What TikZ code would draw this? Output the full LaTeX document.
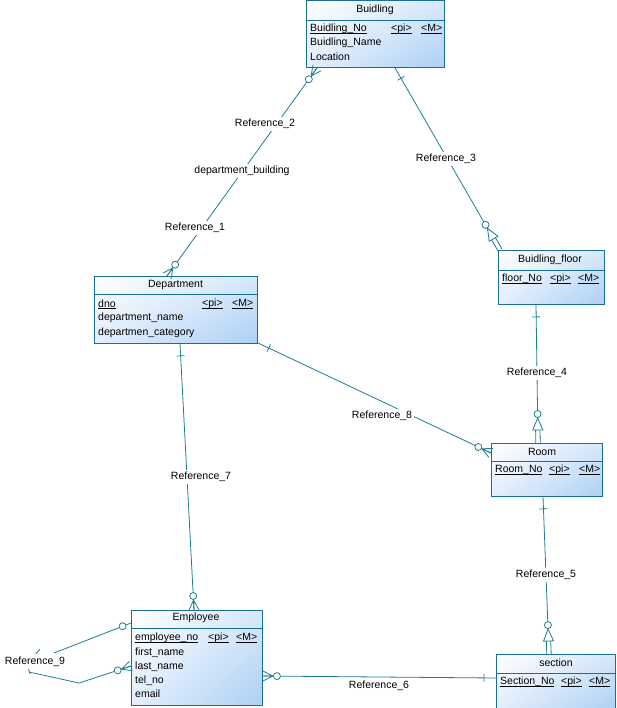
\documentclass[tikz,border=0pt]{standalone}
\usepackage{fontspec}
\setmainfont{Liberation Sans}
\usetikzlibrary{calc,shadings}
\definecolor{linkc}{RGB}{30,125,145}
\definecolor{bord}{RGB}{25,110,155}
\definecolor{shA}{RGB}{214,232,250}
\definecolor{shB}{RGB}{226,238,252}
\definecolor{shC}{RGB}{172,208,245}
\tikzset{
 ent/.style={draw=bord, line width=0.9pt, rectangle, inner sep=0pt, anchor=north west,
   upper left=white, upper right=shA, lower left=shB, lower right=shC},
 sepline/.style={draw=bord, line width=0.8pt},
 ttl/.style={font=\fontsize{10.5}{12}\selectfont, inner sep=0pt},
 att/.style={font=\fontsize{10.5}{12}\selectfont, inner sep=0pt, anchor=west},
 link/.style={draw=linkc, line width=0.8pt},
 lbl/.style={font=\fontsize{10.5}{12}\selectfont, fill=white, inner sep=2pt},
 lblnf/.style={font=\fontsize{10.5}{12}\selectfont, inner sep=1pt},
}
\newcommand\ulx[1]{\setbox0\hbox{#1}\rlap{\rule[-1.6pt]{\wd0}{0.6pt}}\box0}
\newcommand\cfMany[2]{%
 \coordinate (cfp) at ($(#1)!10pt!(#2)$);
 \draw[link] (#1) -- (cfp) ($(#1)!5pt!90:(#2)$) -- (cfp) -- ($(#1)!5pt!-90:(#2)$);
 \draw[link, fill=white] ($(#1)!14pt!(#2)$) circle[radius=3.5pt];}
\newcommand\cfOne[2]{%
 \coordinate (cfp) at ($(#1)!12pt!(#2)$);
 \draw[link] ($(cfp)!4pt!90:(#2)$) -- ($(cfp)!4pt!-90:(#2)$);}
\newcommand\cfSub[2]{%
 \coordinate (cfb) at ($(#1)!13pt!(#2)$);
 \coordinate (cfa) at ($(#1)!25pt!(#2)$);
 \draw[link] ($(#1)!2.2pt!90:(#2)$) -- ($(cfb)!2.2pt!90:(#2)$) ($(#1)!2.2pt!-90:(#2)$) -- ($(cfb)!2.2pt!-90:(#2)$);
 \draw[link, fill=white] ($(cfb)!5pt!90:(#2)$) -- (cfa) -- ($(cfb)!5pt!-90:(#2)$) -- cycle;
 \draw[link, fill=white] ($(#1)!29pt!(#2)$) circle[radius=3.5pt];}
\begin{document}
\begin{tikzpicture}[x=1pt, y=-1pt]
\useasboundingbox (0,0) rectangle (616,708);
% ---------- entities ----------
% Buidling
\node[ent, minimum width=138pt, minimum height=67pt] (bld) at (306,0) {};
\draw[sepline] ($(bld.north west)+(0,20)$) -- ($(bld.north east)+(0,20)$);
\node[ttl] (bldt) at (375,10) {Buidling};
\node[att] (bld1) at (310,29) {\ulx{Buidling\_No}};
\node[att] (bld1p) at (391,29) {\ulx{<pi>}};
\node[att] (bld1m) at (421,29) {\ulx{<M>}};
\node[att] (bld2) at (310,43) {Buidling\_Name};
\node[att] (bld3) at (310,57) {Location};
% Department
\node[ent, minimum width=163pt, minimum height=67pt] (dep) at (94,276) {};
\draw[sepline] ($(dep.north west)+(0,18)$) -- ($(dep.north east)+(0,18)$);
\node[ttl] (dept) at (175.5,285) {Department};
\node[att] (dep1) at (98,304) {\ulx{dno}};
\node[att] (dep1p) at (202,304) {\ulx{<pi>}};
\node[att] (dep1m) at (232,304) {\ulx{<M>}};
\node[att] (dep2) at (98,318) {department\_name};
\node[att] (dep3) at (98,333) {departmen\_category};
% Buidling_floor
\node[ent, minimum width=106pt, minimum height=54pt] (flr) at (498,250) {};
\draw[sepline] ($(flr.north west)+(0,20)$) -- ($(flr.north east)+(0,20)$);
\node[ttl] (flrt) at (550,260) {Buidling\_floor};
\node[att] (flr1) at (502,279) {\ulx{floor\_No}};
\node[att] (flr1p) at (550,279) {\ulx{<pi>}};
\node[att] (flr1m) at (578,279) {\ulx{<M>}};
% Room
\node[ent, minimum width=111pt, minimum height=53pt] (room) at (491,443) {};
\draw[sepline] ($(room.north west)+(0,18)$) -- ($(room.north east)+(0,18)$);
\node[ttl] (roomt) at (542,452) {Room};
\node[att] (room1) at (495,470) {\ulx{Room\_No}};
\node[att] (room1p) at (549,470) {\ulx{<pi>}};
\node[att] (room1m) at (579,470) {\ulx{<M>}};
% Employee
\node[ent, minimum width=131pt, minimum height=95pt] (emp) at (131,610) {};
\draw[sepline] ($(emp.north west)+(0,18)$) -- ($(emp.north east)+(0,18)$);
\node[ttl] (empt) at (196,618) {Employee};
\node[att] (emp1) at (135,638) {\ulx{employee\_no}};
\node[att] (emp1p) at (208,638) {\ulx{<pi>}};
\node[att] (emp1m) at (236,638) {\ulx{<M>}};
\node[att] (emp2) at (135,653) {first\_name};
\node[att] (emp3) at (135,667) {last\_name};
\node[att] (emp4) at (135,681) {tel\_no};
\node[att] (emp5) at (135,694) {email};
% section
\node[ent, minimum width=119pt, minimum height=54pt] (sec) at (496,654) {};
\draw[sepline] ($(sec.north west)+(0,19)$) -- ($(sec.north east)+(0,19)$);
\node[ttl] (sect) at (556,663) {section};
\node[att] (sec1) at (500,682) {\ulx{Section\_No}};
\node[att] (sec1p) at (561,682) {\ulx{<pi>}};
\node[att] (sec1m) at (589,682) {\ulx{<M>}};
% ---------- connector end points ----------
\coordinate (r2a) at ($(bld.south west)+(11,0)$);
\coordinate (r2b) at ($(dep.north west)+(73,0)$);
\coordinate (r3a) at ($(bld.south west)+(89,0)$);
\coordinate (r3b) at ($(flr.north west)+(2,0)$);
\coordinate (r4a) at ($(flr.south west)+(38,0)$);
\coordinate (r4b) at ($(room.north west)+(47,0)$);
\coordinate (r5a) at ($(room.south west)+(52,0)$);
\coordinate (r5b) at ($(sec.north west)+(53,0)$);
\coordinate (r6a) at ($(emp.north east)+(0,66)$);
\coordinate (r6b) at ($(sec.north west)+(0,24)$);
\coordinate (r7a) at ($(dep.south west)+(86,0)$);
\coordinate (r7b) at ($(emp.north west)+(63,0)$);
\coordinate (r8a) at ($(dep.south east)+(0,-1)$);
\coordinate (r8b) at ($(room.north west)+(0,10)$);
\coordinate (r9a) at ($(emp.north west)+(0,13)$);
\coordinate (r9b) at ($(emp.north west)+(0,56)$);
\coordinate (r9c) at (54,653);
\coordinate (r9d) at (79,683);
\coordinate (r9e) at (29,672);
\coordinate (r9t1) at (36,654);
\coordinate (r9t2) at (40,649);
\coordinate (r9t3) at (28.5,669);
\coordinate (r9t4) at (30,674);
% ---------- connectors ----------
\draw[link] (r2a) -- (r2b);
\cfMany{r2a}{r2b}
\cfMany{r2b}{r2a}
\draw[link] ($(r3b)!25pt!(r3a)$) -- (r3a);
\cfOne{r3a}{r3b}
\cfSub{r3b}{r3a}
\draw[link] ($(r4b)!25pt!(r4a)$) -- (r4a);
\cfOne{r4a}{r4b}
\cfSub{r4b}{r4a}
\draw[link] ($(r5b)!25pt!(r5a)$) -- (r5a);
\cfOne{r5a}{r5b}
\cfSub{r5b}{r5a}
\draw[link] (r6a) -- (r6b);
\cfMany{r6a}{r6b}
\cfOne{r6b}{r6a}
\draw[link] (r7a) -- (r7b);
\cfOne{r7a}{r7b}
\cfMany{r7b}{r7a}
\draw[link] (r8a) -- (r8b);
\cfOne{r8a}{r8b}
\cfMany{r8b}{r8a}
\draw[link] (r9a) -- (r9c);
\draw[link, fill=white] ($(r9a)!9pt!(r9c)$) circle[radius=3.5pt];
\draw[link] (r9b) -- (r9d) -- (r9e);
\cfMany{r9b}{r9d}
\draw[link] (r9t1) -- (r9t2);
\draw[link] (r9t3) -- (r9t4);
% ---------- labels ----------
\node[lbl] (l2) at (265,124) {Reference\_2};
\node[lbl] (lb) at (242,171) {department\_building};
\node[lbl] (l1) at (195,228) {Reference\_1};
\node[lbl] (l3) at (446,159) {Reference\_3};
\node[lbl] (l4) at (537,373) {Reference\_4};
\node[lbl] (l5) at (546,575) {Reference\_5};
\node[lblnf] (l6) at (379,686) {Reference\_6};
\node[lbl] (l7) at (201,477) {Reference\_7};
\node[lbl] (l8) at (382,416) {Reference\_8};
\node[lblnf] (l9) at (35,662) {Reference\_9};
\end{tikzpicture}
\end{document}
